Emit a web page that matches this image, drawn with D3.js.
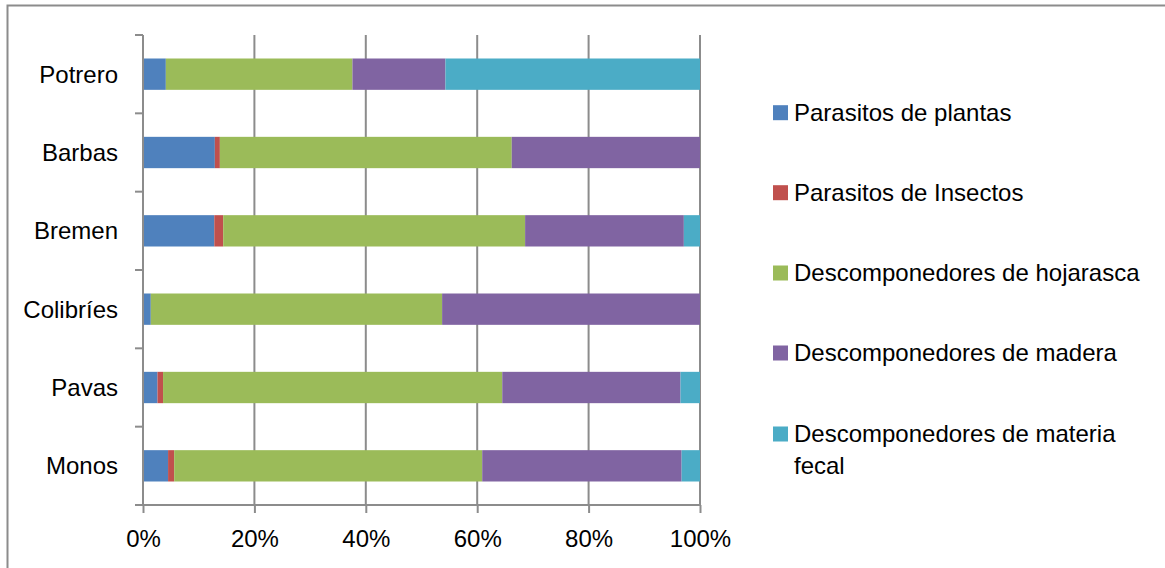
<!DOCTYPE html>
<html>
<head>
<meta charset="utf-8">
<script src="https://cdn.jsdelivr.net/npm/d3@7"></script>
<style>
  html, body { margin: 0; padding: 0; background: #fff; }
  svg { display: block; font-family: "Liberation Sans", Arial, sans-serif; }
</style>
</head>
<body>
<svg id="chart" width="1165" height="568"></svg>
<script>
// Sites, top to bottom
const sites = ["Potrero", "Barbas", "Bremen", "Colibríes", "Pavas", "Monos"];

// Functional groups (stack order, left to right)
const groups = [
  "Parasitos de plantas",
  "Parasitos de Insectos",
  "Descomponedores de hojarasca",
  "Descomponedores de madera",
  "Descomponedores de materia fecal"
];

// Percentage of each group per site (same order as sites)
const parasitosPlantas      = [4.1, 12.9, 12.8, 1.4, 2.6, 4.5];
const parasitosInsectos     = [0.0, 0.9, 1.6, 0.0, 1.0, 1.1];
const descHojarasca         = [33.5, 52.4, 54.2, 52.3, 60.9, 55.3];
const descMadera            = [16.7, 33.8, 28.5, 46.3, 32.0, 35.8];
const descMateriaFecal      = [45.7, 0.0, 2.9, 0.0, 3.5, 3.3];

const xTicks = [0, 0.2, 0.4, 0.6, 0.8, 1.0];
const colors = ["#4F81BD", "#C0504D", "#9BBB59", "#8064A2", "#4BACC6"];

const seriesValues = [parasitosPlantas, parasitosInsectos, descHojarasca, descMadera, descMateriaFecal];
const rows = sites.map((s, i) => {
  const r = { site: s };
  groups.forEach((g, k) => { r[g] = seriesValues[k][i]; });
  return r;
});

const svg = d3.select("#chart");
const font = 24;

// chart frame
svg.append("rect")
  .attr("x", 7.5).attr("y", 5.5)
  .attr("width", 1170).attr("height", 580)
  .attr("fill", "#fff")
  .attr("stroke", "#8c8c8c").attr("stroke-width", 2);

const plot = { left: 143, right: 700, top: 35, bottom: 505 };

const x = d3.scaleLinear().domain([0, 1]).range([plot.left, plot.right]);
const y = d3.scaleBand().domain(sites).range([plot.top, plot.bottom])
  .paddingInner(0.6).paddingOuter(0.3);

const stack = d3.stack().keys(groups).offset(d3.stackOffsetExpand);
const layers = stack(rows);

// vertical gridlines
svg.append("g")
  .selectAll("line")
  .data(xTicks.slice(1))
  .join("line")
  .attr("x1", d => x(d)).attr("x2", d => x(d))
  .attr("y1", plot.top).attr("y2", plot.bottom)
  .attr("stroke", "#8c8c8c").attr("stroke-width", 2);

// stacked bars
svg.append("g")
  .selectAll("g")
  .data(layers)
  .join("g")
  .attr("fill", (d, i) => colors[i])
  .selectAll("rect")
  .data(d => d)
  .join("rect")
  .attr("x", d => x(d[0]))
  .attr("width", d => Math.max(0, x(d[1]) - x(d[0])))
  .attr("y", d => y(d.data.site))
  .attr("height", y.bandwidth());

// x axis
const xAxis = svg.append("g")
  .attr("transform", `translate(0,${plot.bottom})`)
  .call(d3.axisBottom(x).tickValues(xTicks).tickFormat(d3.format(".0%")).tickSize(8).tickPadding(17).tickSizeOuter(0));
xAxis.select(".domain").remove();
xAxis.selectAll(".tick line").attr("stroke", "#8c8c8c").attr("stroke-width", 2);
xAxis.selectAll(".tick text").attr("font-size", font).attr("fill", "#000")
  .attr("font-family", "Liberation Sans, Arial, sans-serif");
svg.append("line")
  .attr("x1", plot.left - 8).attr("x2", plot.right + 1)
  .attr("y1", plot.bottom).attr("y2", plot.bottom)
  .attr("stroke", "#8c8c8c").attr("stroke-width", 2);

// y axis: line, boundary ticks, category labels
svg.append("line")
  .attr("x1", plot.left).attr("x2", plot.left)
  .attr("y1", plot.top).attr("y2", plot.bottom)
  .attr("stroke", "#8c8c8c").attr("stroke-width", 2);

const step = y.step();
const boundaries = d3.range(sites.length + 1).map(i => plot.top + i * (plot.bottom - plot.top) / sites.length);
svg.append("g")
  .selectAll("line")
  .data(boundaries)
  .join("line")
  .attr("x1", plot.left - 8).attr("x2", plot.left)
  .attr("y1", d => d).attr("y2", d => d)
  .attr("stroke", "#8c8c8c").attr("stroke-width", 2);

svg.append("g")
  .selectAll("text")
  .data(sites)
  .join("text")
  .attr("x", 118)
  .attr("y", d => y(d) + y.bandwidth() / 2)
  .attr("dy", "0.35em")
  .attr("text-anchor", "end")
  .attr("font-size", font)
  .attr("fill", "#000")
  .text(d => d);

// legend
const legendRows = [112.7, 192.7, 273, 353, 434];
const legend = svg.append("g");
groups.forEach((g, i) => {
  const cy = legendRows[i];
  legend.append("rect")
    .attr("x", 773).attr("y", cy - 7.5)
    .attr("width", 15).attr("height", 15)
    .attr("fill", colors[i]);
  const t = legend.append("text")
    .attr("x", 794).attr("y", cy)
    .attr("dy", "0.35em")
    .attr("font-size", font)
    .attr("fill", "#000");
  if (g === "Descomponedores de materia fecal") {
    t.append("tspan").attr("x", 794).text("Descomponedores de materia");
    t.append("tspan").attr("x", 794).attr("dy", 32).text("fecal");
  } else {
    t.text(g);
  }
});
</script>
</body>
</html>
